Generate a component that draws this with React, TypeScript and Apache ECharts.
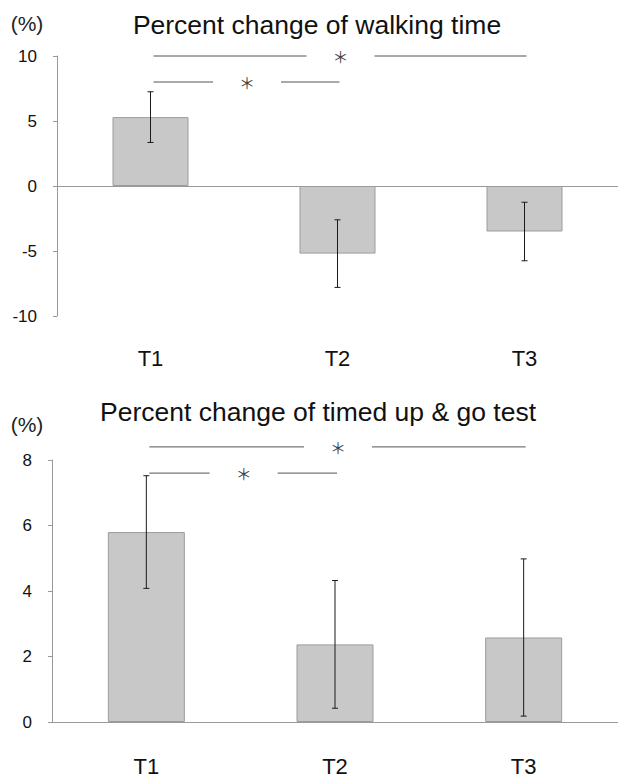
import React, { useEffect, useRef } from "react";
import * as echarts from "echarts";

// ---- data ----
const categories = ["T1", "T2", "T3"];
const walkMean = [5.3, -5.2, -3.5];
const walkSD = [1.95, 2.6, 2.25];
const tugMean = [5.8, 2.37, 2.58];
const tugSD = [1.72, 1.95, 2.4];
const walkAxis = { min: -10, max: 10, interval: 5 };
const tugAxis = { min: 0, max: 8, interval: 2 };
// [from category, to category, height in axis units]
const walkBrackets = [
  [0, 2, 10],
  [0, 1, 8],
];
const tugBrackets = [
  [0, 2, 8.4],
  [0, 1, 7.6],
];
const titleTexts = ["Percent change of walking time", "Percent change of timed up & go test"];
const unitLabel = "(%)";
const sigMark = "＊";

const FONT = "'Liberation Sans', Arial, sans-serif";

const errorData = (mean: number[], sd: number[]) =>
  mean.map((m, i) => [i, +(m - sd[i]).toFixed(3), +(m + sd[i]).toFixed(3)]);

const errorRender = (params: any, api: any) => {
  const x = api.value(0);
  const lo = api.coord([x, api.value(1)]);
  const hi = api.coord([x, api.value(2)]);
  const cap = 3;
  const style = { stroke: "#1a1a1a", lineWidth: 1 };
  return {
    type: "group",
    children: [
      { type: "line", shape: { x1: lo[0], y1: lo[1], x2: hi[0], y2: hi[1] }, style },
      { type: "line", shape: { x1: lo[0] - cap, y1: lo[1], x2: lo[0] + cap, y2: lo[1] }, style },
      { type: "line", shape: { x1: hi[0] - cap, y1: hi[1], x2: hi[0] + cap, y2: hi[1] }, style },
    ],
  };
};

const bracketRender = (params: any, api: any) => {
  const a = api.coord([api.value(0), api.value(2)]);
  const b = api.coord([api.value(1), api.value(2)]);
  const mid = (a[0] + b[0]) / 2 + 3;
  const gap = 34;
  const style = { stroke: "#555", lineWidth: 1 };
  return {
    type: "group",
    children: [
      { type: "line", shape: { x1: a[0] + 3, y1: a[1], x2: mid - gap, y2: a[1] }, style },
      { type: "line", shape: { x1: mid + gap, y1: b[1], x2: b[0] + 2, y2: b[1] }, style },
      {
        type: "text",
        x: mid,
        y: a[1],
        style: {
          text: sigMark,
          fontSize: 16,
          fontFamily: "'Noto Sans CJK JP', sans-serif",
          fill: "#444",
          align: "center",
          verticalAlign: "middle",
        },
      },
    ],
  };
};

const yAxisCommon = (gridIndex: number, ax: any, margin: number) => ({
  type: "value",
  gridIndex,
  min: ax.min,
  max: ax.max,
  interval: ax.interval,
  axisLine: { show: true, lineStyle: { color: "#999", width: 1 } },
  axisTick: { show: true, length: 4, lineStyle: { color: "#999" } },
  splitLine: { show: false },
  axisLabel: { margin, fontSize: 17, color: "#111", fontFamily: FONT },
});

export default function App() {
  const ref = useRef<HTMLDivElement>(null);
  useEffect(() => {
    if (!ref.current) return;
    const chart = echarts.init(ref.current, null, { renderer: "svg" });
    const barStyle = { color: "#c8c8c8", borderColor: "#9c9c9c", borderWidth: 1 };
    const titleStyle = (text: string) => ({
      text,
      fontSize: 26.5,
      fontFamily: FONT,
      fill: "#111",
      align: "center",
      verticalAlign: "middle",
    });
    const unitStyle = {
      text: unitLabel,
      fontSize: 21,
      fontFamily: FONT,
      fill: "#222",
      align: "center",
      verticalAlign: "middle",
    };
    chart.setOption({
      animation: false,
      backgroundColor: "#ffffff",
      grid: [
        { left: 57, right: -5, top: 56, height: 260 },
        { left: 52, right: -3, top: 460, height: 263 },
      ],
      xAxis: [
        {
          type: "category",
          gridIndex: 0,
          data: categories,
          position: "bottom",
          axisLine: { show: false, onZero: false },
          axisTick: { show: false },
          axisLabel: { margin: 31, fontSize: 22, color: "#111", fontFamily: FONT },
        },
        {
          type: "category",
          gridIndex: 0,
          data: categories,
          position: "bottom",
          axisLine: { show: true, onZero: true, lineStyle: { color: "#999", width: 1 } },
          axisTick: { show: false },
          axisLabel: { show: false },
        },
        {
          type: "category",
          gridIndex: 1,
          data: categories,
          position: "bottom",
          axisLine: { show: true, lineStyle: { color: "#999", width: 1 } },
          axisTick: { show: false },
          axisLabel: { margin: 33, fontSize: 22, color: "#111", fontFamily: FONT },
        },
      ],
      yAxis: [yAxisCommon(0, walkAxis, 20), yAxisCommon(1, tugAxis, 20)],
      series: [
        {
          type: "bar",
          xAxisIndex: 0,
          yAxisIndex: 0,
          barWidth: 76,
          data: walkMean,
          itemStyle: barStyle,
        },
        {
          type: "custom",
          xAxisIndex: 0,
          yAxisIndex: 0,
          renderItem: errorRender,
          encode: { x: 0, y: [1, 2] },
          data: errorData(walkMean, walkSD),
          z: 5,
        },
        {
          type: "custom",
          xAxisIndex: 0,
          yAxisIndex: 0,
          renderItem: bracketRender,
          encode: { x: [0, 1], y: 2 },
          data: walkBrackets,
          z: 5,
        },
        {
          type: "bar",
          xAxisIndex: 2,
          yAxisIndex: 1,
          barWidth: 77,
          data: tugMean,
          itemStyle: barStyle,
        },
        {
          type: "custom",
          xAxisIndex: 2,
          yAxisIndex: 1,
          renderItem: errorRender,
          encode: { x: 0, y: [1, 2] },
          data: errorData(tugMean, tugSD),
          z: 5,
        },
        {
          type: "custom",
          xAxisIndex: 2,
          yAxisIndex: 1,
          renderItem: bracketRender,
          encode: { x: [0, 1], y: 2 },
          data: tugBrackets,
          z: 5,
        },
      ],
      graphic: [
        { type: "text", x: 317, y: 25, style: titleStyle(titleTexts[0]) },
        { type: "text", x: 318, y: 412, style: titleStyle(titleTexts[1]) },
        { type: "text", x: 27, y: 23, style: unitStyle },
        { type: "text", x: 27, y: 424, style: unitStyle },
      ],
    });
    return () => chart.dispose();
  }, []);
  return (
    <div
      ref={ref}
      style={{ position: "absolute", left: 0, top: 0, width: 618, height: 777, background: "#fff" }}
    />
  );
}
